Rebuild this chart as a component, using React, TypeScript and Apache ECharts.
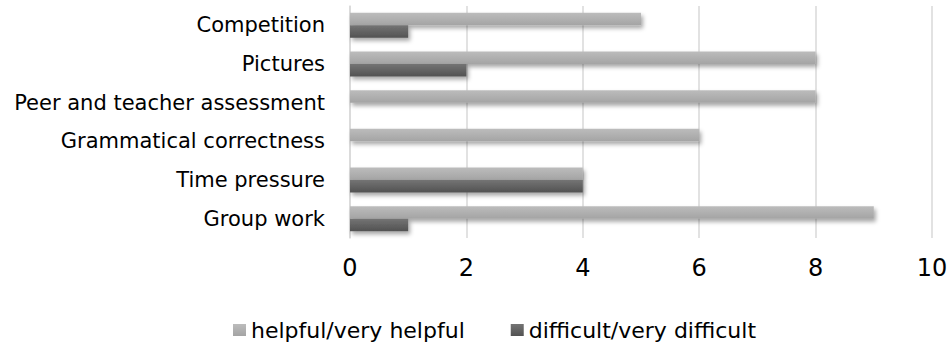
import React, { useEffect, useRef } from "react";
import * as echarts from "echarts";

const categories = [
  "Competition",
  "Pictures",
  "Peer and teacher assessment",
  "Grammatical correctness",
  "Time pressure",
  "Group work",
];
const helpful = [5, 8, 8, 6, 4, 9];
const difficult = [1, 2, 0, 0, 4, 1];
const seriesNames = ["helpful/very helpful", "difficult/very difficult"];
const xTicks = { min: 0, max: 10, interval: 2 };

const FONT = "DejaVu Sans";

export default function App() {
  const ref = useRef<HTMLDivElement>(null);
  useEffect(() => {
    if (!ref.current) return;
    const chart = echarts.init(ref.current, null, { renderer: "svg" });
    const grad = (a: string, b: string) =>
      new echarts.graphic.LinearGradient(0, 0, 0, 1, [
        { offset: 0, color: a },
        { offset: 1, color: b },
      ]);
    const shadow = {
      shadowColor: "rgba(0,0,0,0.35)",
      shadowBlur: 4,
      shadowOffsetX: 2,
      shadowOffsetY: 3,
    };
    chart.setOption({
      animation: false,
      backgroundColor: "#ffffff",
      grid: { left: 350, right: 20, top: 6, bottom: 108, containLabel: false },
      legend: {
        top: 314,
        left: 228,
        itemWidth: 13,
        itemHeight: 12,
        itemGap: 46,
        icon: "rect",
        textStyle: { fontFamily: FONT, fontSize: 22, color: "#000" },
        data: seriesNames,
      },
      xAxis: {
        type: "value",
        min: xTicks.min,
        max: xTicks.max,
        interval: xTicks.interval,
        axisLine: { show: false },
        axisTick: { show: false },
        splitLine: { show: true, lineStyle: { color: "#d9d9d9", width: 1.5 } },
        axisLabel: { fontFamily: FONT, fontSize: 24, color: "#000", margin: 18 },
      },
      yAxis: {
        type: "category",
        inverse: true,
        data: categories,
        axisLine: { show: true, lineStyle: { color: "#d9d9d9", width: 1.5 } },
        axisTick: { show: false },
        axisLabel: { fontFamily: FONT, fontSize: 21, color: "#000", margin: 25 },
      },
      series: [
        {
          name: seriesNames[0],
          type: "bar",
          data: helpful,
          barWidth: 12.5,
          barGap: "0%",
          itemStyle: { color: grad("#bcbcbc", "#a4a4a4"), ...shadow },
        },
        {
          name: seriesNames[1],
          type: "bar",
          data: difficult,
          barWidth: 12.5,
          barGap: "0%",
          itemStyle: { color: grad("#747474", "#525252"), ...shadow },
        },
      ],
    });
    return () => chart.dispose();
  }, []);
  return (
    <div
      ref={ref}
      style={{ position: "fixed", left: 0, top: 0, width: 952, height: 346 }}
    />
  );
}
